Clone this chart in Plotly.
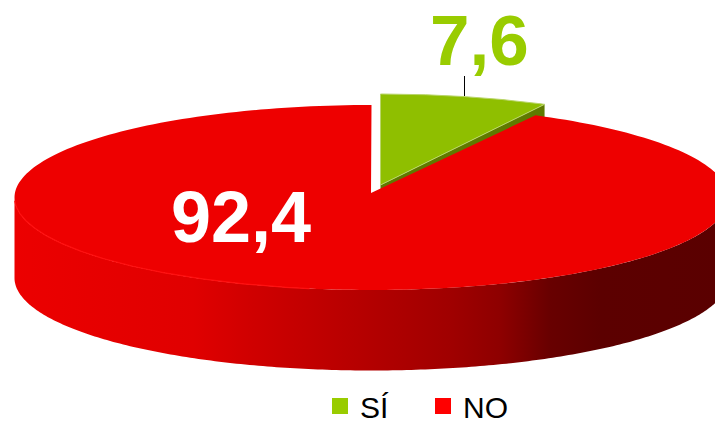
import numpy as np
import plotly.graph_objects as go

categories = ["SÍ", "NO"]
values = [7.6, 92.4]
slice_colors = ["#8FBF00", "#EE0000"]
legend_colors = ["#99CC00", "#FF0000"]
label_colors = ["#99CC00", "#FFFFFF"]

W, H = 715, 424
SPARE = 30  # room below the visible window so that the legend does not squeeze the plot
CX, CY, RX, RY = 371.5, 197.5, 357, 92.5
DEPTH = 80.5
TIP = (371, 193)
EXPLODE = (9, -11)
GREEN_TIP_DY = -12


def arc(t0, t1, n=240, dx=0, dy=0):
    t = np.radians(np.linspace(t0, t1, n))
    return CX + dx + RX * np.sin(t), CY + dy - RY * np.cos(t)


split = values[0] / sum(values) * 360
fig = go.Figure()

# green slice: side wall, then top face (pulled out of the pie)
gx, gy = arc(0, split, dx=EXPLODE[0], dy=EXPLODE[1])
tipx, tipy = CX + EXPLODE[0], TIP[1] + GREEN_TIP_DY + 4
fig.add_trace(go.Scatter(
    x=[tipx, gx[-1], gx[-1], tipx], y=[tipy, gy[-1], gy[-1] + DEPTH, tipy + DEPTH],
    fill="toself", fillcolor="#5F7A00", mode="none", hoverinfo="skip", showlegend=False))
fig.add_trace(go.Scatter(
    x=[tipx, *gx, tipx], y=[tipy, *gy, tipy],
    fill="toself", fillcolor=slice_colors[0], mode="lines",
    line=dict(color="#B9D56A", width=1), hoverinfo="skip", showlegend=False))

# red slice: side wall with horizontal gradient
fx, fy = arc(270, 90)
fig.add_trace(go.Scatter(
    x=[*fx, *fx[::-1], fx[0]], y=[*fy, *(fy[::-1] + DEPTH), fy[0]],
    fill="toself", mode="none", hoverinfo="skip", showlegend=False,
    fillgradient=dict(type="horizontal", colorscale=[
        [0.00, "#EC0000"], [0.25, "#E00000"], [0.33, "#D00000"], [0.47, "#B80000"],
        [0.61, "#A00000"], [0.68, "#8E0000"], [0.75, "#680000"], [0.82, "#5C0000"],
        [1.00, "#5A0000"]])))

# red slice: top face
rx, ry = arc(split, 360)
fig.add_trace(go.Scatter(
    x=[TIP[0], *rx, TIP[0]], y=[TIP[1], *ry, TIP[1]],
    fill="toself", fillcolor=slice_colors[1], mode="none",
    hoverinfo="skip", showlegend=False))

# brighter rim on the lit side
hx, hy = arc(268, 190)
fig.add_trace(go.Scatter(x=hx, y=hy, mode="lines", line=dict(color="#FF1010", width=1.2),
                         hoverinfo="skip", showlegend=False))

# leader line for the small slice
fig.add_trace(go.Scatter(x=[464.5, 464.5], y=[76, 96], mode="lines",
                         line=dict(color="#000000", width=1), hoverinfo="skip", showlegend=False))

# legend entries
for name, col in zip(categories, legend_colors):
    fig.add_trace(go.Scatter(x=[None], y=[None], mode="markers", name=name,
                             marker=dict(symbol="square", size=19, color=col)))

# value labels
font_family = "Liberation Sans, Arial, sans-serif"
label_pos = [(479, 40), (241, 217)]
label_sizes = [71, 72]
for v, col, (lx, ly), fs in zip(values, label_colors, label_pos, label_sizes):
    fig.add_annotation(x=lx, y=ly, text=f"<b>{str(v).replace('.', ',')}</b>", showarrow=False,
                       font=dict(family=font_family, size=fs, color=col),
                       xanchor="center", yanchor="middle")

fig.update_layout(
    width=W, height=H + SPARE, autosize=False,
    margin=dict(l=0, r=0, t=0, b=SPARE),
    paper_bgcolor="#FFFFFF", plot_bgcolor="#FFFFFF",
    xaxis=dict(range=[0, W], visible=False, fixedrange=True),
    yaxis=dict(range=[H, 0], visible=False, fixedrange=True),
    legend=dict(orientation="h", x=320 / W, xanchor="left", y=(H - 406) / H, yanchor="middle",
                font=dict(family=font_family, size=30, color="#000000"),
                entrywidth=58, entrywidthmode="pixels", bgcolor="rgba(0,0,0,0)",
                traceorder="normal", itemsizing="trace"),
)

fig.write_html("out.html", config={"displayModeBar": False},
               post_script="document.body.style.margin='0';document.documentElement.style.overflow='hidden';")
